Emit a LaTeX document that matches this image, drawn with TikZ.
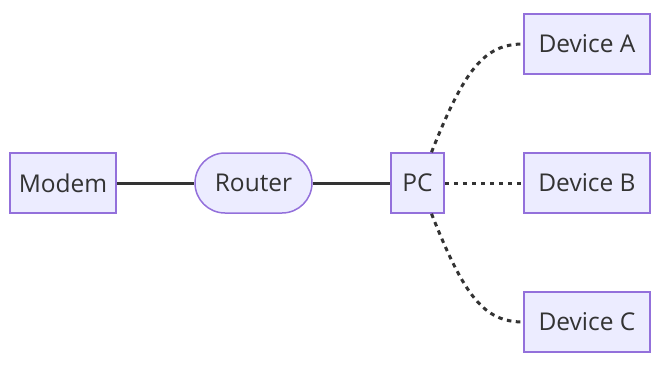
\documentclass[tikz,border=0pt]{standalone}
\usepackage{fontspec}
\setmainfont{Open Sans}
\usepackage{xcolor}
\usetikzlibrary{calc}
\definecolor{nodefill}{HTML}{ECECFF}
\definecolor{nodeline}{HTML}{9370DB}
\definecolor{edgeline}{HTML}{333333}

\begin{document}
\begin{tikzpicture}[x=1pt,y=-1pt,font=\fontsize{24.5}{28}\selectfont,
    box/.style={draw=nodeline,fill=nodefill,line width=1.5pt,text=edgeline,minimum height=60pt,inner sep=0pt},
    link/.style={draw=edgeline,line width=3pt},
    wifi/.style={draw=edgeline,line width=3pt,dash pattern=on 4.5pt off 4.5pt}]
  \useasboundingbox (0,0) rectangle (664,369);
  \node[box,minimum width=106pt] (modem) at (63,183) {Modem};
  \node[box,minimum width=117pt,rounded corners=30pt] (router) at (253.5,183) {Router};
  \node[box,minimum width=53pt] (pc) at (417.5,183) {PC};
  \node[box,minimum width=126pt] (deva) at (587,44) {Device A};
  \node[box,minimum width=126pt] (devb) at (587,183) {Device B};
  \node[box,minimum width=126pt] (devc) at (587,322) {Device C};
  \draw[link] (modem) -- (router);
  \draw[link] (router) -- (pc);
  \draw[wifi] ([xshift=14pt]pc.north) .. controls +(33,-83) and +(-39,0) .. (deva.west);
  \draw[wifi] (pc) -- (devb);
  \draw[wifi] ([xshift=14pt]pc.south) .. controls +(33,83) and +(-39,0) .. (devc.west);
\end{tikzpicture}
\end{document}
